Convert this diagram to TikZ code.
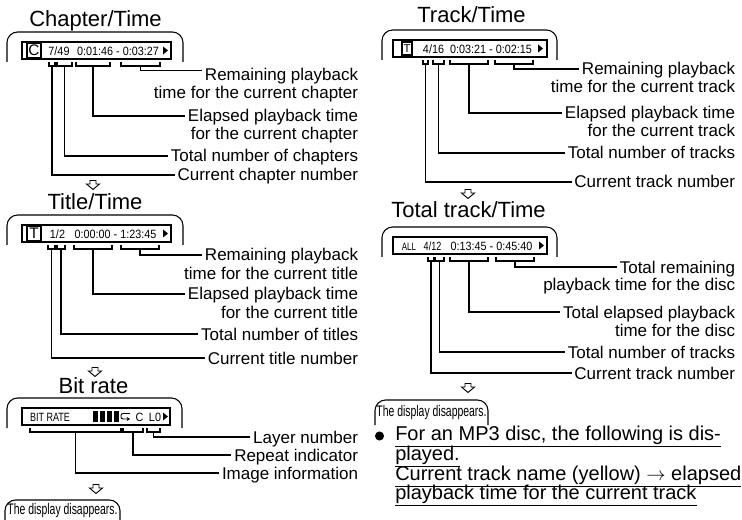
\documentclass[tikz,border=0pt]{standalone}
\usepackage{fontspec}
\setmainfont{Liberation Sans}
\newfontfamily\narrowfont[FakeStretch=0.75]{Liberation Sans}
\newfontfamily\tightfont[FakeStretch=0.68]{Liberation Sans}
\newfontfamily\readfont[FakeStretch=0.9]{Liberation Sans}
\usetikzlibrary{arrows.meta}

\begin{document}
\begin{tikzpicture}[x=0.75pt,y=-0.75pt,holder/.style={line width=0.8pt, rounded corners=8pt},screen/.style={line width=1.1pt},keybox/.style={draw, line width=0.8pt, inner sep=0pt},bracket/.style={line width=0.8pt},leader/.style={line width=0.8pt},heading/.style={font=\fontsize{16.5}{18}\selectfont, anchor=base, inner sep=0pt},note/.style={font=\fontsize{12.75}{14}\selectfont, anchor=east, inner sep=2pt, text height=9pt, text depth=0pt},readout/.style={font=\readfont\fontsize{9}{10}\selectfont, anchor=base, inner sep=0pt},slim/.style={font=\narrowfont\fontsize{9}{10}\selectfont, anchor=base, inner sep=0pt},gone/.style={font=\tightfont\fontsize{11.5}{13}\selectfont, inner sep=0pt},point/.style={font=\fontsize{15}{15}\selectfont, anchor=base west, inner sep=0pt},downarrow/.style={line width=0.7pt}]
\useasboundingbox (0,0) rectangle (742,520);
\node[heading] (chhead) at (95.5,27) {Chapter/Time};
\draw[holder] (7,62) -- (7,32) -- (183,32) -- (183,62);
\draw[screen] (22,42) rectangle (171,59);
\node[keybox, minimum width=10.5pt, minimum height=11.25pt, font=\fontsize{11.5}{12}\selectfont] (chkey) at (34,50.5) {C};
\node[readout] (chcount) at (59,55.5) {7/49};
\node[readout] (chclock) at (118,55.5) {0:01:46 - 0:03:27};
\node[heading] (tihead) at (95,210) {Title/Time};
\draw[holder] (7,245) -- (7,215) -- (183,215) -- (183,245);
\draw[screen] (22,225) rectangle (171,242);
\node[keybox, minimum width=10.5pt, minimum height=11.25pt, font=\fontsize{11.5}{12}\selectfont] (tikey) at (34,233.5) {T};
\node[readout] (ticount) at (57.5,238.5) {1/2};
\node[readout] (ticlock) at (115.5,238.5) {0:00:00 - 1:23:45};
\node[heading] (brhead) at (93.5,393) {Bit rate};
\draw[holder] (7,428) -- (7,398) -- (182,398) -- (182,428);
\draw[screen] (22,408) rectangle (170,425);
\node[slim] (brtext) at (50,421) {BIT RATE};
\foreach \x in {93,100,107,114} {\fill (\x,411) rectangle (\x+4.5,422);}
\draw[line width=0.7pt, rounded corners=1.5pt, -{Stealth[length=2.5pt,width=3pt]}] (130,413.5) -- (121,413.5) -- (121,419) -- (130,419);
\node[readout] (brrepeat) at (139.5,421) {C};
\node[readout] (brlayer) at (155,421) {L0};
\node[heading] (trhead) at (471.5,23) {Track/Time};
\draw[holder] (382,60) -- (382,30) -- (557,30) -- (557,60);
\draw[screen] (393,40) rectangle (547,57);
\node[keybox, minimum width=7.5pt, minimum height=9.75pt, font=\fontsize{8.5}{9}\selectfont] (trkey) at (407,48.5) {T};
\node[readout] (trcount) at (433.5,53.5) {4/16};
\node[readout] (trclock) at (491,53.5) {0:03:21 - 0:02:15};
\node[heading] (tthead) at (468.5,218) {Total track/Time};
\draw[holder] (382,257) -- (382,227) -- (557,227) -- (557,257);
\draw[screen] (393,237) rectangle (547,254);
\node[slim, font=\narrowfont\fontsize{8}{9}\selectfont] (ttall) at (409,250.5) {ALL};
\node[slim] (ttcount) at (432.5,250.5) {4/12};
\node[readout] (ttclock) at (491.5,250.5) {0:13:45 - 0:45:40};
\foreach \x/\y in {163/50.5, 163/233.5, 163/416.5, 538/48.5, 539/245.5} {\fill (\x,\y-4) -- (\x+5,\y) -- (\x,\y+4) -- cycle;}
\foreach \a/\b/\y/\n in {49/55/62/chcur0, 57/72/62/chtot0, 76/110/62/chela0, 121/160/62/chrem0, 48/55/245/ticur0, 57/65/245/titot0, 74/112/245/tiela0, 121/159/245/tirem0, 30/121/428/brimg0, 123/143/428/brrep0, 147/160/428/brlay0, 423/428/60/trcur0, 433/444/60/trtot0, 450/488/60/trela0, 495/533/60/trrem0, 428/434/257/ttcur0, 435/444/257/tttot0, 450/488/257/ttela0, 496/534/257/ttrem0} {\draw[bracket] (\a,\y) -- (\a,\y+4) -- (\b,\y+4) -- (\b,\y);\coordinate (\n) at ({(\a+\b)/2},\y+4);}
\node[note] (chrem) at (361,75) {Remaining playback};
\node[note] (chrem2) at (361,93) {time for the current chapter};
\node[note] (chela) at (361,116) {Elapsed playback time};
\node[note] (chela2) at (361,134) {for the current chapter};
\node[note] (chtot) at (361,156) {Total number of chapters};
\node[note] (chcur) at (361,175) {Current chapter number};
\node[note] (tirem) at (361,255) {Remaining playback};
\node[note] (tirem2) at (361,273) {time for the current title};
\node[note] (tiela) at (361,294) {Elapsed playback time};
\node[note] (tiela2) at (361,312) {for the current title};
\node[note] (titot) at (361,334) {Total number of titles};
\node[note] (ticur) at (361,358) {Current title number};
\node[note] (brlay) at (361,437) {Layer number};
\node[note] (brrep) at (361,455) {Repeat indicator};
\node[note] (brimg) at (361,473) {Image information};
\node[note] (trrem) at (738,69) {Remaining playback};
\node[note] (trrem2) at (738,87) {time for the current track};
\node[note] (trela) at (738,113) {Elapsed playback time};
\node[note] (trela2) at (738,131) {for the current track};
\node[note] (trtot) at (738,153) {Total number of tracks};
\node[note] (trcur) at (738,182) {Current track number};
\node[note] (ttrem) at (738,267) {Total remaining};
\node[note] (ttrem2) at (738,285) {playback time for the disc};
\node[note] (ttela) at (738,312) {Total elapsed playback};
\node[note] (ttela2) at (738,330) {time for the disc};
\node[note] (tttot) at (738,352) {Total number of tracks};
\node[note] (ttcur) at (738,373) {Current track number};
\draw[leader] (chrem0) |- ([yshift=3.5pt]chrem.west);
\foreach \n in {chela,chtot,chcur,tirem,tiela,titot,ticur,brlay,brrep,brimg,trrem,trela,trtot,trcur,ttrem,ttela,tttot,ttcur} {\draw[leader] (\n0) |- (\n.west);}
\foreach \x/\y in {93/185, 95/372, 96/489, 468/194, 468/388} {\draw[downarrow] (\x-3,\y-4.5) -- (\x+3,\y-4.5) -- (\x+3,\y-1) -- (\x+6.5,\y-1) -- (\x,\y+4.5) -- (\x-6.5,\y-1) -- (\x-3,\y-1) -- cycle;}
\draw[holder] (5,520) -- (5,500) -- (120,500) -- (120,520);
\node[gone] (goneleft) at (62.5,510.5) {The display disappears.};
\draw[holder] (375,425) -- (375,400) -- (488,400) -- (488,425);
\node[gone] (goneright) at (431.5,412.5) {The display disappears.};
\fill (379.5,436) circle[radius=3.4pt];
\node[point] (mpa) at (395,440) {\underline{For an MP3 disc, the following is dis-}};
\node[point] (mpb) at (395,460) {\underline{played.}};
\node[point] (mpc) at (395,480) {\underline{Current track name (yellow) $\rightarrow$ elapsed}};
\node[point] (mpd) at (395,499) {\underline{playback time for the current track}};
\end{tikzpicture}
\end{document}
